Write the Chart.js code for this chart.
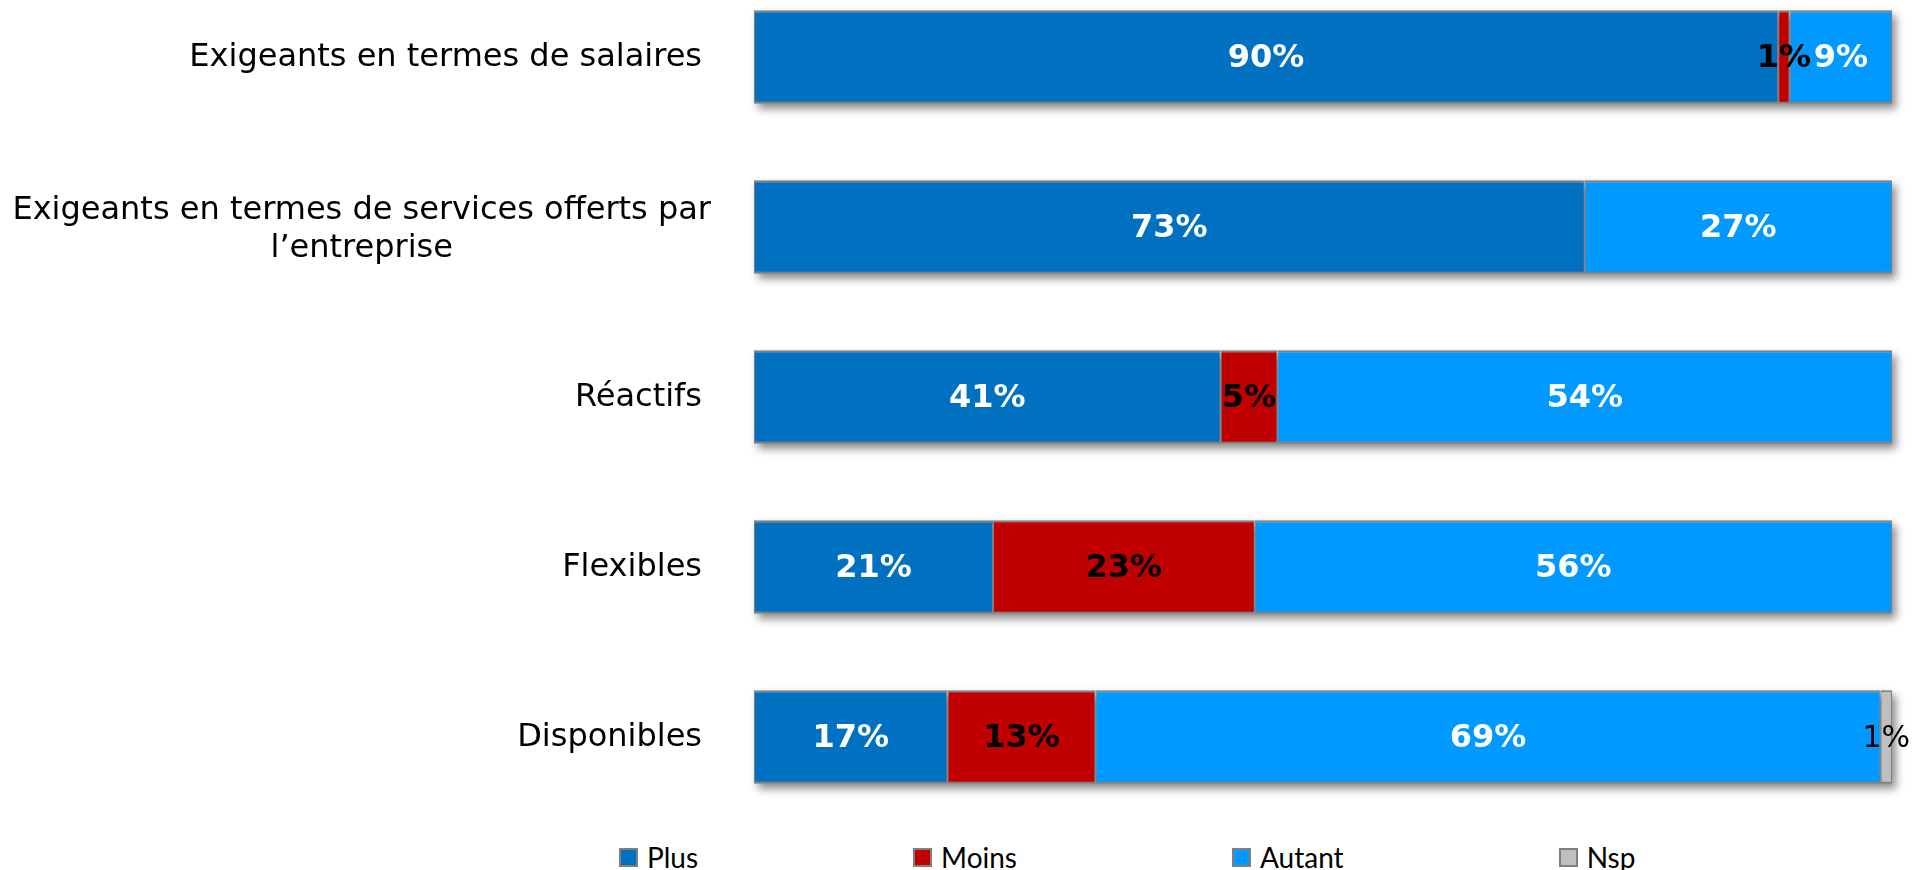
<!DOCTYPE html>
<html lang="fr">
<head>
<meta charset="utf-8">
<script src="https://cdn.jsdelivr.net/npm/chart.js@4.4.0/dist/chart.umd.min.js"></script>
<style>
  html, body { margin: 0; padding: 0; background: #fff; width: 1930px; height: 870px; overflow: hidden; }
  body { position: relative; }
  #wrap { position: absolute; left: 0; top: -28px; width: 1930px; height: 850px; }
  #legend { position: absolute; left: 619px; top: 843px; display: flex; gap: 215px;
            font-family: Lato, "Liberation Sans", sans-serif; font-size: 28px; line-height: 28px; color: #000; }
  #legend .item { display: flex; align-items: center; }
  #legend .box { width: 15px; height: 15px; border: 2px solid #808080; margin-right: 9px; }
</style>
</head>
<body>
<div id="wrap"><canvas id="chart"></canvas></div>
<div id="legend"></div>
<script>
// data
const categories = [
  'Exigeants en termes de salaires',
  ['Exigeants en termes de services offerts par', 'l\u2019entreprise'],
  'Réactifs',
  'Flexibles',
  'Disponibles'
];
const plusValues   = [90, 73, 41, 21, 17];
const moinsValues  = [1, 0, 5, 23, 13];
const autantValues = [9, 27, 54, 56, 69];
const nspValues    = [0, 0, 0, 0, 1];

const COLORS = ['#0070C0', '#C00000', '#0099FF', '#BFBFBF'];
const LABEL_STYLE = [
  { color: '#fff', weight: 'bold' },
  { color: '#000', weight: 'bold' },
  { color: '#fff', weight: 'bold' },
  { color: '#000', weight: 'normal' }
];

function makeSet(label, data, i) {
  return {
    label: label,
    data: data,
    backgroundColor: COLORS[i],
    borderColor: '#7F7F7F',
    borderWidth: { top: 2, bottom: 2, left: 1, right: 1 },
    borderSkipped: false,
    clip: false
  };
}

// blurred drop shadow behind each full bar (uses the bar elements' own geometry)
const barShadow = {
  id: 'barShadow',
  beforeDatasetsDraw(chart) {
    const ctx = chart.ctx;
    const first = chart.getDatasetMeta(0).data;
    const last = chart.getDatasetMeta(chart.data.datasets.length - 1).data;
    ctx.save();
    ctx.filter = 'blur(4px)';
    ctx.fillStyle = 'rgba(0,0,0,0.45)';
    first.forEach((bar, j) => {
      const x0 = bar.base;
      const x1 = last[j].x;
      const h = bar.height;
      ctx.fillRect(x0 + 4, bar.y - h / 2 + 5, x1 - x0, h);
    });
    ctx.restore();
  }
};

// percent labels in the middle of each segment
const segmentLabels = {
  id: 'segmentLabels',
  afterDatasetsDraw(chart) {
    const ctx = chart.ctx;
    ctx.save();
    ctx.textAlign = 'center';
    ctx.textBaseline = 'middle';
    chart.data.datasets.forEach((ds, i) => {
      const meta = chart.getDatasetMeta(i);
      const st = LABEL_STYLE[i];
      ctx.fillStyle = st.color;
      ctx.font = st.weight + (st.weight === 'bold' ? ' 32px' : ' 30px') + ' "DejaVu Sans", Verdana, sans-serif';
      meta.data.forEach((bar, j) => {
        const v = ds.data[j];
        if (!v) return;
        const p = bar.getCenterPoint();
        ctx.fillText(v + '%', p.x, p.y + 2);
      });
    });
    ctx.restore();
  }
};

// category labels, right aligned, multi-line blocks centred on themselves
const categoryLabels = {
  id: 'categoryLabels',
  afterDraw(chart) {
    const ctx = chart.ctx;
    const y = chart.scales.y;
    const right = 702;
    const lineH = 38;
    ctx.save();
    ctx.font = '32px "DejaVu Sans", Verdana, sans-serif';
    ctx.fillStyle = '#000';
    ctx.textBaseline = 'middle';
    categories.forEach((c, i) => {
      const lines = Array.isArray(c) ? c : [c];
      const yc = y.getPixelForValue(i) + 1;
      const w = Math.max(...lines.map(l => ctx.measureText(l).width));
      const top = yc + 2 - (lines.length - 1) * lineH / 2;
      if (lines.length === 1) {
        ctx.textAlign = 'right';
        ctx.fillText(lines[0], right, yc);
      } else {
        ctx.textAlign = 'center';
        lines.forEach((l, k) => ctx.fillText(l, right + 9 - w / 2, top + k * lineH));
      }
    });
    ctx.restore();
  }
};

const chart = new Chart(document.getElementById('chart'), {
  type: 'bar',
  data: {
    labels: categories,
    datasets: [
      makeSet('Plus', plusValues, 0),
      makeSet('Moins', moinsValues, 1),
      makeSet('Autant', autantValues, 2),
      makeSet('Nsp', nspValues, 3)
    ]
  },
  options: {
    indexAxis: 'y',
    responsive: true,
    maintainAspectRatio: false,
    animation: false,
    layout: { padding: { left: 754, right: 38, top: 0, bottom: 0 } },
    datasets: { bar: { categoryPercentage: 0.55, barPercentage: 1 } },
    plugins: {
      legend: { display: false },
      tooltip: { enabled: false }
    },
    scales: {
      x: { stacked: true, min: 0, max: 100, display: false },
      y: { stacked: true, display: false }
    }
  },
  plugins: [barShadow, segmentLabels, categoryLabels]
});

// html legend built from the chart's datasets
const legendEl = document.getElementById('legend');
chart.data.datasets.forEach(ds => {
  const item = document.createElement('div');
  item.className = 'item';
  const box = document.createElement('span');
  box.className = 'box';
  box.style.background = ds.backgroundColor;
  const txt = document.createElement('span');
  txt.textContent = ds.label;
  item.appendChild(box);
  item.appendChild(txt);
  legendEl.appendChild(item);
});
</script>
</body>
</html>
